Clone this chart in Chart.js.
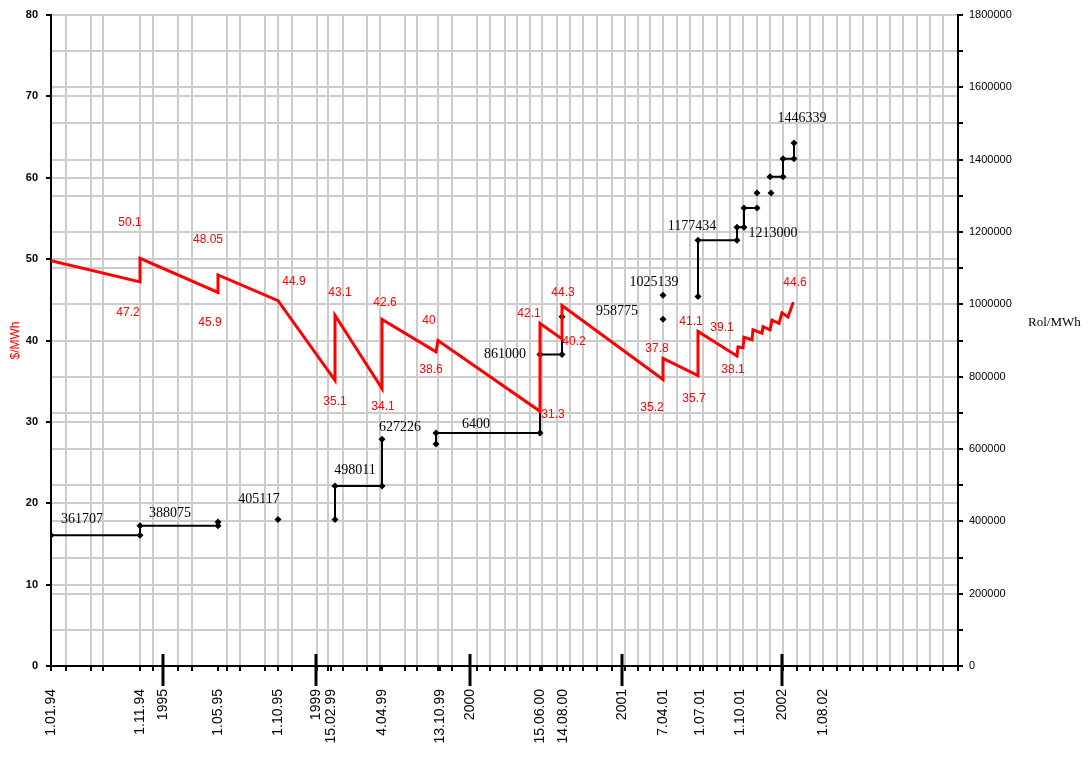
<!DOCTYPE html>
<html>
<head>
<meta charset="utf-8">
<script src="https://cdn.jsdelivr.net/npm/chart.js@4/dist/chart.umd.min.js"></script>
<style>
  body { margin: 0; background: #fff; }
  #wrap { width: 1088px; height: 757px; }
</style>
</head>
<body>
<div id="wrap"><canvas id="chart" width="1088" height="757"></canvas></div>
<script>
// x positions are on the chart's compressed date axis (0 = 1.01.94)
var tickPos = [0, 8.9, 11.2, 16.7, 22.7, 26.5, 28.0, 33.1, 38.9, 41.9, 48.9, 51.2, 57.1, 61.2, 64.9, 68.9, 73.1, 77.2];
var tickText = ["1.01.94", "1.11.94", "1995", "1.05.95", "1.10.95", "1999", "15.02.99", "4.04.99", "13.10.99", "2000",
                "15.06.00", "14.08.00", "2001", "7.04.01", "1.07.01", "1.10.01", "2002", "1.08.02"];
var yearPos = [11.2, 26.5, 41.9, 57.1, 73.1];
var gridPos = [0, 1.5, 4, 5.2, 8.9, 10.2, 12.7, 14.1, 17.6, 18.9, 21.4, 22.7, 24.1, 26.6, 27.7, 29.2, 31.6, 32.9,
               35.4, 36.6, 38.7, 40.1, 42.6, 43.9, 45.4, 46.6, 47.9, 49.1, 50.6, 51.9, 53.2, 54.6, 56.1, 57.4,
               58.7, 59.9, 61.2, 62.6, 63.9, 65.2, 66.6, 67.9, 69.2, 70.6, 71.9, 73.2, 74.6, 75.9, 77.2, 78.6,
               79.9, 81.2, 82.6, 83.9, 85.2, 86.6, 87.9, 89.2, 90.7];

// price in $/MWh (left axis)
var priceX = [0, 8.9, 8.9, 16.7, 16.7, 22.7, 28.4, 28.4, 33.1, 33.1, 38.5, 38.7, 48.9, 48.9, 51.1, 51.1, 61.2, 61.2,
              64.7, 64.7, 68.6, 68.7, 69.2, 69.3, 70.1, 70.2, 71.1, 71.2, 71.9, 72.1, 72.8, 73.1, 73.7, 74.2];
var priceUsd = [49.8, 47.2, 50.1, 45.9, 48.05, 44.9, 35.1, 43.1, 34.1, 42.6, 38.6, 40.0, 31.3, 42.1, 40.2, 44.3, 35.2, 37.8,
                35.7, 41.1, 38.1, 39.2, 39.1, 40.4, 40.1, 41.3, 40.9, 41.7, 41.3, 42.5, 42.1, 43.4, 42.9, 44.6];
var priceText = ["", "47.2", "50.1", "45.9", "48.05", "44.9", "35.1", "43.1", "34.1", "42.6", "38.6", "40", "31.3", "42.1",
                 "40.2", "44.3", "35.2", "37.8", "35.7", "41.1", "38.1", "39.1", "", "", "", "", "", "", "", "", "", "", "", "44.6"];

// price in Rol/MWh (right axis), null breaks the step line
var rolX = [0, 8.9, 8.9, 16.7, 16.7, null, 22.7, null, 28.4, 28.4, 33.1, 33.1, null,
            38.5, 38.5, 48.9, 48.9, 51.1, 51.1, null, 61.2, null, 61.2, null,
            64.7, 64.7, 68.6, 68.6, 69.3, 69.3, 70.6, null, 70.6, null, 72.0, null,
            71.9, 73.2, 73.2, 74.3, 74.3];
var rolVal = [361707, 361707, 388075, 388075, 398000, null, 405117, null, 405117, 498011, 498011, 627226, null,
              613900, 644000, 644000, 861000, 861000, 966000, null, 958775, null, 1025139, null,
              1022000, 1177434, 1177434, 1213000, 1213000, 1266700, 1266700, null, 1308000, null, 1308000, null,
              1352800, 1352800, 1402800, 1402800, 1446339];
var rolText = ["361707", "", "388075", "", "", "", "405117", "", "", "498011", "", "627226", "",
               "", "6400", "", "861000", "", "", "", "958775", "", "1025139", "",
               "", "1177434", "", "1213000", "", "", "", "", "", "", "", "",
               "", "", "", "", "1446339"];

// label offsets from their point, in pixels
var priceOff = [[0,0], [-12,31], [-10,-36], [-8,30], [-10,-35], [16,-19], [0,21], [5,-23], [1,18], [3,-17],
                [-5,18], [-9,-20], [13,3], [-11,-10], [12,3], [1,-13], [-11,28], [-6,-10], [-4,23], [-7,-10],
                [-4,14], [-16,-19], [0,0], [0,0], [0,0], [0,0], [0,0], [0,0], [0,0], [0,0], [0,0], [0,0], [0,0], [2,-20]];
var rolOff = {0: [31,-16], 2: [30,-12], 6: [-19,-20], 9: [20,-16], 11: [18,-12], 14: [40,-9], 16: [-35,0],
              20: [-46,-8], 22: [-9,-13], 25: [-6,-14], 27: [36,6], 40: [8,-25]};

var allTicks = Array.from(new Set(gridPos.concat(tickPos))).sort(function(a, b){ return a - b; });

function pts(xs, ys){
    var out = [];
    for(var i = 0; i < xs.length; i++){
        out.push({x: xs[i] === null ? NaN : xs[i], y: ys[i]});
    }
    return out;
}

var pointLabels = {
    id: 'pointLabels',
    afterDatasetsDraw: function(chart){
        var ctx = chart.ctx;
        ctx.save();
        ctx.textAlign = 'center';
        ctx.textBaseline = 'middle';
        // red labels
        var m0 = chart.getDatasetMeta(0);
        ctx.font = '12px "Liberation Sans", Arial, sans-serif';
        ctx.fillStyle = '#ff0000';
        for(var i = 0; i < priceText.length; i++){
            if(priceText[i] && m0.data[i]){
                ctx.fillText(priceText[i], m0.data[i].x + priceOff[i][0], m0.data[i].y + priceOff[i][1]);
            }
        }
        // black labels
        var m1 = chart.getDatasetMeta(1);
        ctx.font = '14px "Liberation Serif", "Times New Roman", serif';
        ctx.fillStyle = '#000';
        for(var j = 0; j < rolText.length; j++){
            if(rolText[j] && m1.data[j] && rolOff[j]){
                ctx.fillText(rolText[j], m1.data[j].x + rolOff[j][0], m1.data[j].y + rolOff[j][1]);
            }
        }
        ctx.restore();
    },
    afterDraw: function(chart){
        var ctx = chart.ctx;
        var xs = chart.scales.x;
        var bottom = chart.chartArea.bottom;
        ctx.save();
        // long year ticks
        ctx.strokeStyle = '#000';
        ctx.lineWidth = 3;
        yearPos.forEach(function(v){
            var px = Math.round(xs.getPixelForValue(v));
            ctx.beginPath();
            ctx.moveTo(px, bottom - 12);
            ctx.lineTo(px, bottom + 20);
            ctx.stroke();
        });
        // right axis title
        ctx.fillStyle = '#000';
        ctx.font = '13px "Liberation Serif", "Times New Roman", serif';
        ctx.textAlign = 'left';
        ctx.textBaseline = 'middle';
        ctx.fillText('Rol/MWh', 1028, 323);
        ctx.restore();
    }
};

var grey = '#cccccc';

new Chart(document.getElementById('chart'), {
    type: 'line',
    data: {
        datasets: [{
            label: '$/MWh',
            data: pts(priceX, priceUsd),
            yAxisID: 'y',
            borderColor: '#ff0000',
            borderWidth: 3,
            pointStyle: 'rect',
            pointRadius: 1.5,
            pointBackgroundColor: '#e00000',
            pointBorderWidth: 0,
            tension: 0
        }, {
            label: 'Rol/MWh',
            data: pts(rolX, rolVal),
            yAxisID: 'y2',
            borderColor: '#000',
            borderWidth: 2,
            pointStyle: 'rectRot',
            pointRadius: 3.5,
            pointBackgroundColor: '#000',
            pointBorderWidth: 0,
            spanGaps: false,
            tension: 0
        }]
    },
    options: {
        responsive: false,
        animation: false,
        layout: { padding: { top: 15, left: 0, right: 0, bottom: 0 } },
        plugins: { legend: { display: false }, tooltip: { enabled: false } },
        scales: {
            x: {
                type: 'linear',
                min: 0,
                max: 90.7,
                afterBuildTicks: function(scale){
                    scale.ticks = allTicks.map(function(v){ return {value: v}; });
                },
                afterFit: function(scale){ scale.height = 91; },
                border: { color: '#000', width: 2 },
                grid: {
                    color: function(c){
                        return (c.tick && gridPos.indexOf(c.tick.value) >= 0) ? grey : 'rgba(0,0,0,0)';
                    },
                    lineWidth: 2,
                    tickColor: '#000',
                    tickLength: 5
                },
                ticks: {
                    autoSkip: false,
                    minRotation: 90,
                    maxRotation: 90,
                    padding: 18,
                    color: '#000',
                    font: { family: '"Liberation Sans", Arial, sans-serif', size: 14 },
                    callback: function(v){
                        var k = tickPos.indexOf(v);
                        return k >= 0 ? tickText[k] : '';
                    }
                }
            },
            y: {
                position: 'left',
                min: 0,
                max: 80,
                afterFit: function(scale){ scale.width = 51; },
                border: { color: '#000', width: 2 },
                grid: { color: grey, lineWidth: 2, tickColor: '#000', tickLength: 5 },
                ticks: {
                    stepSize: 10,
                    padding: 8,
                    color: '#000',
                    font: { family: '"Liberation Sans", Arial, sans-serif', size: 11, weight: 'bold' }
                },
                title: {
                    display: true,
                    text: '$/MWh',
                    color: '#ff0000',
                    padding: { top: 8, bottom: 0 },
                    font: { family: '"Liberation Sans", Arial, sans-serif', size: 12 }
                }
            },
            y2: {
                position: 'right',
                min: 0,
                max: 1800000,
                afterFit: function(scale){ scale.width = 130; },
                border: { color: '#000', width: 2 },
                grid: { color: grey, lineWidth: 2, tickColor: '#000', tickLength: 5 },
                ticks: {
                    stepSize: 100000,
                    padding: 6,
                    color: '#000',
                    font: { family: '"Liberation Sans", Arial, sans-serif', size: 11 },
                    callback: function(v){
                        return v % 200000 === 0 ? String(v) : '';
                    }
                }
            }
        }
    },
    plugins: [pointLabels]
});
</script>
</body>
</html>
